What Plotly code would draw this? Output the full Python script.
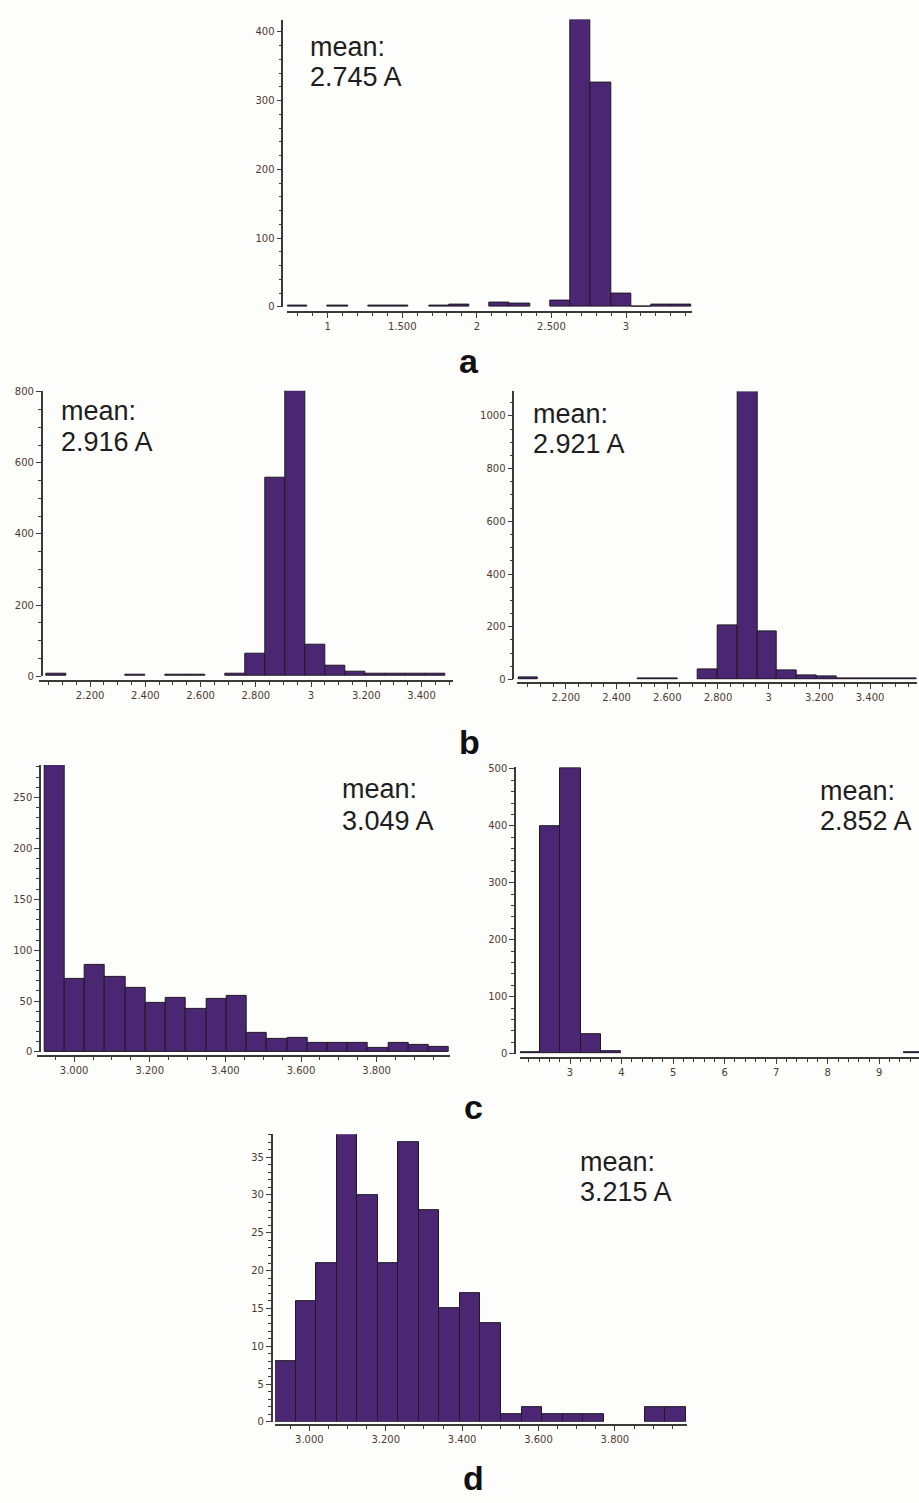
import plotly.graph_objects as go

W, H = 919, 1503

# ---------------- data (histogram counts per bin) ----------------
# panel a
a_bin_start = 0.73
a_bin_width = 0.1355
a_counts = [2, 0, 2, 0, 2, 2, 0, 2, 3, 0, 7, 5, 0, 10, 418, 327, 20, 1, 3, 3]
a_mean = "2.745 A"

# panel b (left)
bl_bin_start = 2.04
bl_bin_width = 0.0723
bl_counts = [6, 0, 0, 0, 3, 0, 4, 3, 0, 8, 62, 557, 805, 88, 29, 12, 8, 8, 8, 6]
bl_mean = "2.916 A"

# panel b (right)
br_bin_start = 2.012
br_bin_width = 0.07857
br_counts = [6, 0, 0, 0, 0, 0, 4, 3, 0, 38, 205, 1093, 182, 35, 16, 13, 5, 5, 5, 5]
br_mean = "2.921 A"

# panel c (left)
cl_bin_start = 2.9215
cl_bin_width = 0.0535
cl_counts = [282, 72, 86, 74, 63, 48, 53, 42, 52, 55, 19, 13, 14, 9, 9, 9, 4, 9, 7, 5]
cl_mean = "3.049 A"

# panel c (right)
cr_bin_start = 2.03
cr_bin_width = 0.3925
cr_counts = [3, 400, 502, 34, 4, 0, 0, 0, 0, 0, 0, 0, 0, 0, 0, 0, 0, 0, 0, 2]
cr_mean = "2.852 A"

# panel d
d_bin_start = 2.910
d_bin_width = 0.0538
d_counts = [8, 16, 21, 38, 30, 21, 37, 28, 15, 17, 13, 1, 2, 1, 1, 1, 0, 0, 2, 2]
d_mean = "3.215 A"

# tick labels
a_xticks = [1, 1.5, 2, 2.5, 3]
a_xlabels = ["1", "1.500", "2", "2.500", "3"]
b_xticks = [2.2, 2.4, 2.6, 2.8, 3.0, 3.2, 3.4]
b_xlabels = ["2.200", "2.400", "2.600", "2.800", "3", "3.200", "3.400"]
c_xticks = [3.0, 3.2, 3.4, 3.6, 3.8]
c_xlabels = ["3.000", "3.200", "3.400", "3.600", "3.800"]
cr_xticks = [3, 4, 5, 6, 7, 8, 9]
cr_xlabels = ["3", "4", "5", "6", "7", "8", "9"]

panel_letters = ["a", "b", "c", "d"]

# ---------------- styling / layout geometry (pixels) ----------------
BAR = "#4b2673"
EDGE = "#1e1a22"
AX = "#3a3a3a"
TICKFONT = dict(family="DejaVu Sans", size=10, color="#4d3b30")
MEANFONT = dict(family="Liberation Sans, Arial", size=27, color="#1e1e1e")
LETTERFONT = dict(family="Liberation Sans, Arial", size=34, color="#111111")

panels = [
    dict(start=a_bin_start, width=a_bin_width, counts=a_counts, mean=a_mean,
         xd=(287.3, 691.7), yzero=305, ytop=15.7, xr=(0.73, 3.44), yr=(0, 418),
         yax_x=282.3, xax_y=310, ydt=100, ymin=20,
         xt=a_xticks, xl=a_xlabels, xmin=0.1, xmin0=0.0,
         tx=308.3, tb=(52.3, 83.3)),
    dict(start=bl_bin_start, width=bl_bin_width, counts=bl_counts, mean=bl_mean,
         xd=(39.3, 452.7), yzero=676.7, ytop=389.3, xr=(2.016, 3.513), yr=(0, 803),
         yax_x=41.7, xax_y=681.7, ydt=200, ymin=50,
         xt=b_xticks, xl=b_xlabels, xmin=0.05, xmin0=2.0,
         tx=59.3, tb=(419, 450)),
    dict(start=br_bin_start, width=br_bin_width, counts=br_counts, mean=br_mean,
         xd=(516.7, 916.7), yzero=680, ytop=390, xr=(2.006, 3.584), yr=(0, 1093),
         yax_x=513.3, xax_y=684, ydt=200, ymin=50,
         xt=b_xticks, xl=b_xlabels, xmin=0.05, xmin0=2.0,
         tx=531, tb=(422.3, 452.7)),
    dict(start=cl_bin_start, width=cl_bin_width, counts=cl_counts, mean=cl_mean,
         xd=(36.7, 450), yzero=1055, ytop=766, xr=(2.901, 3.994), yr=(0, 282),
         yax_x=40, xax_y=1059, ydt=50, ymin=10,
         xt=c_xticks, xl=c_xlabels, xmin=0.05, xmin0=2.9,
         tx=340, tb=(800, 831.7)),
    dict(start=cr_bin_start, width=cr_bin_width, counts=cr_counts, mean=cr_mean,
         xd=(520, 919), yzero=1056.7, ytop=768.3, xr=(2.03, 9.77), yr=(0, 503),
         yax_x=515, xax_y=1061, ydt=100, ymin=20,
         xt=cr_xticks, xl=cr_xlabels, xmin=0.2, xmin0=2.0,
         tx=817.7, tb=(801.7, 832.3)),
    dict(start=d_bin_start, width=d_bin_width, counts=d_counts, mean=d_mean,
         xd=(275, 686.7), yzero=1427.3, ytop=1137.7, xr=(2.910, 3.988), yr=(0, 38.05),
         yax_x=271.7, xax_y=1431, ydt=5, ymin=1,
         xt=c_xticks, xl=c_xlabels, xmin=0.05, xmin0=2.9,
         tx=578.3, tb=(1175, 1205)),
]

# letter centre x and baseline y (None -> sit on the bottom edge)
letter_pos = [(469, 371.3), (470, 755), (474, 1122), (473.5, None)]


def fx(px):
    return px / W


def fy(py):
    return 1 - py / H


fig = go.Figure()
layout = dict(
    width=W, height=H,
    margin=dict(l=0, r=0, t=0, b=0),
    paper_bgcolor="#fdfdfb", plot_bgcolor="rgba(0,0,0,0)",
    showlegend=False,
    bargap=0,
    annotations=[],
)

for i, p in enumerate(panels, start=1):
    xs = "" if i == 1 else str(i)
    n = len(p["counts"])
    centers = [p["start"] + p["width"] * (k + 0.5) for k in range(n)]
    ys = [c if c > 0 else None for c in p["counts"]]
    fig.add_trace(go.Bar(
        x=centers, y=ys, width=[p["width"]] * n,
        marker=dict(color=BAR, line=dict(color=EDGE, width=1)),
        xaxis="x" + xs, yaxis="y" + xs, hoverinfo="skip",
    ))
    layout["xaxis" + xs] = dict(
        domain=[fx(p["xd"][0]), fx(p["xd"][1])],
        range=list(p["xr"]), anchor="free", position=fy(p["xax_y"]),
        showgrid=False, zeroline=False, showline=True, linecolor=AX, linewidth=1.5,
        ticks="outside", ticklen=5, tickwidth=1, tickcolor=AX,
        tickmode="array", tickvals=p["xt"], ticktext=p["xl"],
        tickfont=TICKFONT,
        minor=dict(ticks="outside", ticklen=3, tickcolor=AX, tick0=p["xmin0"],
                   dtick=p["xmin"], showgrid=False),
        fixedrange=True,
    )
    layout["yaxis" + xs] = dict(
        domain=[fy(p["yzero"]), fy(p["ytop"])],
        range=list(p["yr"]), anchor="free", position=fx(p["yax_x"]),
        showgrid=False, zeroline=False, showline=True, linecolor=AX, linewidth=1.5,
        ticks="outside", ticklen=5, tickwidth=1, tickcolor=AX,
        tick0=0, dtick=p["ydt"], tickfont=TICKFONT,
        minor=dict(ticks="outside", ticklen=3, tickcolor=AX, tick0=0,
                   dtick=p["ymin"], showgrid=False),
        fixedrange=True,
    )
    for txt, base in zip(["mean:", p["mean"]], p["tb"]):
        layout["annotations"].append(dict(
            text=txt, xref="paper", yref="paper",
            x=fx(p["tx"]), y=fy(base - 0.35 * MEANFONT["size"]),
            xanchor="left", yanchor="middle", showarrow=False, font=MEANFONT,
        ))

for letter, (cx, base) in zip(panel_letters, letter_pos):
    ann = dict(
        text="<b>%s</b>" % letter, xref="paper", yref="paper",
        x=fx(cx), xanchor="center", showarrow=False, font=LETTERFONT,
    )
    if base is None:
        ann.update(y=0.0, yanchor="bottom", height=36, valign="middle", borderpad=0)
    else:
        ann.update(y=fy(base - 0.35 * LETTERFONT["size"]), yanchor="middle")
    layout["annotations"].append(ann)

fig.update_layout(**layout)
fig.write_html(
    "out.html",
    config={"displayModeBar": False},
    post_script="document.body.style.margin='0px';document.body.style.background='#fdfdfb';",
)
